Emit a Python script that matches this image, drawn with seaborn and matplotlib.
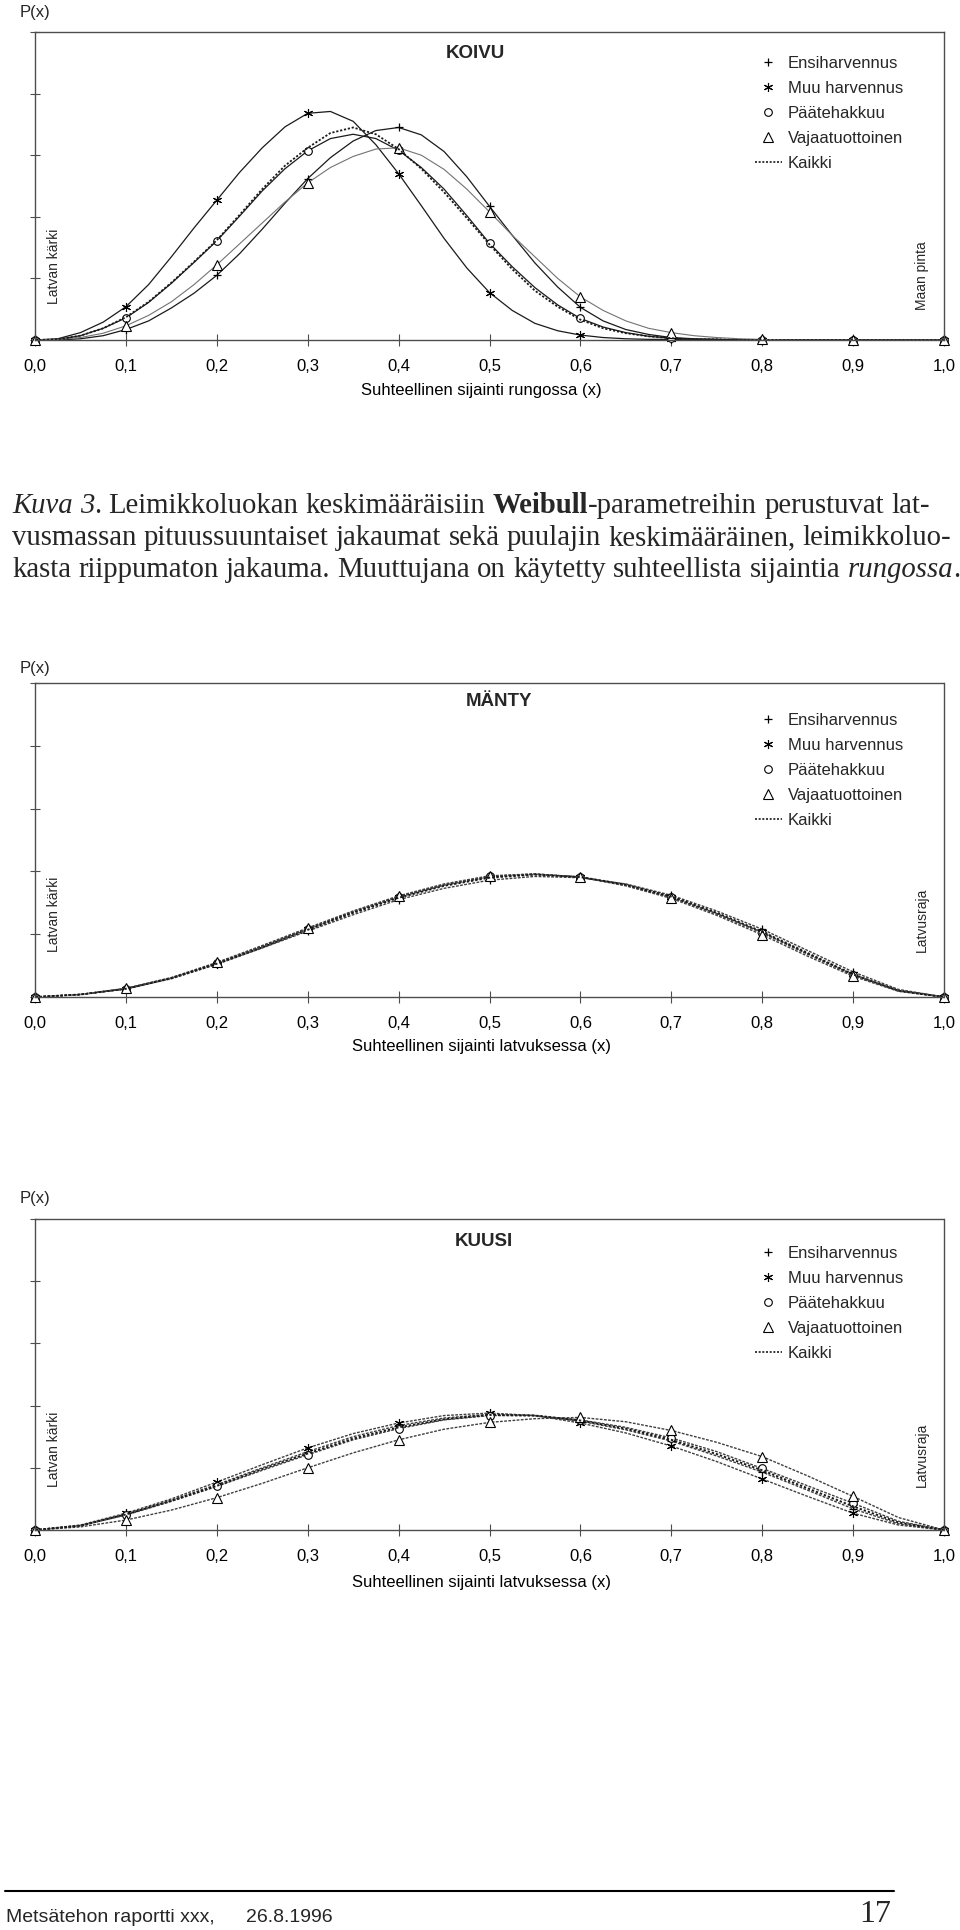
import numpy as np
import pandas as pd
import matplotlib
matplotlib.use("Agg")
import matplotlib.pyplot as plt
from matplotlib.lines import Line2D
import seaborn as sns

# ---------------- data ----------------
X_KOIVU = [0.000, 0.025, 0.050, 0.075, 0.100, 0.125, 0.150, 0.175, 0.200, 0.225,
           0.250, 0.275, 0.300, 0.325, 0.350, 0.375, 0.400, 0.425, 0.450, 0.475,
           0.500, 0.525, 0.550, 0.575, 0.600, 0.625, 0.650, 0.675, 0.700, 0.725,
           0.750, 0.775, 0.800, 0.825, 0.850, 0.875, 0.900, 0.925, 0.950, 0.975, 1.000]
X = [0.00, 0.05, 0.10, 0.15, 0.20, 0.25, 0.30, 0.35, 0.40, 0.45, 0.50,
     0.55, 0.60, 0.65, 0.70, 0.75, 0.80, 0.85, 0.90, 0.95, 1.00]
XTICKS = [0.0, 0.1, 0.2, 0.3, 0.4, 0.5, 0.6, 0.7, 0.8, 0.9, 1.0]
XTICKLABELS = ["0,0", "0,1", "0,2", "0,3", "0,4", "0,5", "0,6", "0,7", "0,8", "0,9", "1,0"]
SERIES = ["Ensiharvennus", "Muu harvennus", "Päätehakkuu", "Vajaatuottoinen", "Kaikki"]

KOIVU_ENSI = [0, 0, .02, .07, .17, .31, .52, .76, 1.05, 1.40, 1.80, 2.22, 2.62, 2.96, 3.23,
              3.40, 3.45, 3.33, 3.06, 2.65, 2.17, 1.70, 1.25, .86, .53, .31, .17, .09, .04,
              .02, .01, 0, 0, 0, 0, 0, 0, 0, 0, 0, 0]
KOIVU_MUU = [0, .02, .12, .29, .54, .90, 1.35, 1.82, 2.27, 2.72, 3.12, 3.46, 3.68, 3.71, 3.55,
             3.17, 2.70, 2.18, 1.65, 1.17, .77, .48, .27, .15, .08, .04, .02, .01, .01,
             0, 0, 0, 0, 0, 0, 0, 0, 0, 0, 0, 0]
KOIVU_PAATE = [0, .01, .07, .19, .36, .61, .92, 1.26, 1.61, 2.01, 2.42, 2.78, 3.07, 3.27, 3.34,
               3.27, 3.08, 2.80, 2.45, 2.02, 1.57, 1.19, .85, .57, .35, .21, .12, .06, .03,
               .01, .01, 0, 0, 0, 0, 0, 0, 0, 0, 0, 0]
KOIVU_VAJAA = [0, .01, .04, .11, .23, .40, .62, .90, 1.22, 1.56, 1.90, 2.24, 2.55, 2.80, 2.98,
               3.10, 3.12, 3.00, 2.77, 2.45, 2.08, 1.70, 1.35, 1.00, .70, .48, .31, .19, .12,
               .07, .04, .02, .01, 0, 0, 0, 0, 0, 0, 0, 0]
KOIVU_KAIKKI = [0, .01, .07, .19, .37, .62, .93, 1.27, 1.62, 2.03, 2.45, 2.83, 3.12, 3.36, 3.45,
                3.34, 3.10, 2.78, 2.40, 1.98, 1.55, 1.15, .80, .54, .33, .19, .11, .06, .03,
                .01, .01, 0, 0, 0, 0, 0, 0, 0, 0, 0, 0]

MANTY_ENSI = [0, .04, .13, .29, .52, .78, 1.05, 1.31, 1.55, 1.73, 1.86, 1.92, 1.90, 1.80, 1.62, 1.37, 1.08, .74, .40, .12, 0]
MANTY_MUU = [0, .04, .13, .30, .53, .80, 1.08, 1.35, 1.59, 1.78, 1.91, 1.95, 1.91, 1.78, 1.59, 1.33, 1.03, .69, .36, .10, 0]
MANTY_PAATE = [0, .04, .13, .30, .54, .81, 1.09, 1.36, 1.60, 1.79, 1.92, 1.96, 1.91, 1.78, 1.59, 1.32, 1.02, .68, .35, .10, 0]
MANTY_VAJAA = [0, .04, .14, .31, .55, .82, 1.10, 1.37, 1.61, 1.80, 1.93, 1.96, 1.91, 1.77, 1.57, 1.30, .99, .65, .33, .09, 0]
MANTY_KAIKKI = [0, .04, .13, .30, .53, .79, 1.07, 1.34, 1.58, 1.77, 1.90, 1.95, 1.91, 1.79, 1.60, 1.34, 1.04, .70, .36, .10, 0]

KUUSI_ENSI = [0, .07, .25, .48, .73, 1.00, 1.26, 1.50, 1.68, 1.80, 1.86, 1.84, 1.75, 1.61, 1.43, 1.19, .93, .64, .34, .10, 0]
KUUSI_MUU = [0, .08, .27, .50, .77, 1.05, 1.32, 1.55, 1.72, 1.84, 1.88, 1.84, 1.72, 1.56, 1.35, 1.10, .82, .54, .27, .08, 0]
KUUSI_PAATE = [0, .07, .24, .46, .70, .96, 1.21, 1.45, 1.63, 1.77, 1.84, 1.84, 1.77, 1.65, 1.48, 1.26, .99, .71, .43, .14, 0]
KUUSI_VAJAA = [0, .05, .16, .32, .52, .75, 1.00, 1.24, 1.45, 1.62, 1.73, 1.79, 1.81, 1.74, 1.60, 1.41, 1.18, .87, .54, .20, 0]
KUUSI_KAIKKI = [0, .07, .25, .47, .71, .98, 1.23, 1.47, 1.65, 1.78, 1.85, 1.84, 1.76, 1.63, 1.45, 1.22, .96, .67, .38, .12, 0]

PANELS = [
    ("KOIVU", X_KOIVU, [KOIVU_ENSI, KOIVU_MUU, KOIVU_PAATE, KOIVU_VAJAA, KOIVU_KAIKKI],
     "Suhteellinen sijainti rungossa (x)", "Maan pinta"),
    ("MÄNTY", X, [MANTY_ENSI, MANTY_MUU, MANTY_PAATE, MANTY_VAJAA, MANTY_KAIKKI],
     "Suhteellinen sijainti latvuksessa (x)", "Latvusraja"),
    ("KUUSI", X, [KUUSI_ENSI, KUUSI_MUU, KUUSI_PAATE, KUUSI_VAJAA, KUUSI_KAIKKI],
     "Suhteellinen sijainti latvuksessa (x)", "Latvusraja"),
]

CAPTION = [
    [("Kuva 3", "italic", "normal"), (". Leimikkoluokan keskimääräisiin ", "normal", "normal"),
     ("Weibull", "normal", "bold"), ("-parametreihin perustuvat lat-", "normal", "normal")],
    [("vusmassan pituussuuntaiset jakaumat sekä puulajin keskimääräinen, leimikkoluo-", "normal", "normal")],
    [("kasta riippumaton jakauma. Muuttujana on käytetty suhteellista sijaintia ", "normal", "normal"),
     ("rungossa", "italic", "normal"), (".", "normal", "normal")],
]

# ---------------- style ----------------
sns.set_theme(style="white")
plt.rcParams["font.family"] = ["Liberation Sans", "DejaVu Sans"]

W, H = 960, 1930
fig = plt.figure(figsize=(W / 100, H / 100), dpi=100)
fig.patch.set_facecolor("white")


def fx(x):
    return x / W


def fy(y):
    return 1 - y / H


MARKERS = {
    "Ensiharvennus": dict(marker="+", markersize=6, mew=0.9, markerfacecolor="black"),
    "Muu harvennus": dict(marker=(6, 2, 0), markersize=6.5, mew=0.8, markerfacecolor="black"),
    "Päätehakkuu": dict(marker="o", markersize=5.5, mew=0.8, markerfacecolor="white"),
    "Vajaatuottoinen": dict(marker="^", markersize=6.5, mew=0.8, markerfacecolor="white"),
    "Kaikki": dict(),
}

# (top, bottom) of each plot area in pixels
GEOM = [(32, 340), (683, 997), (1219, 1530)]
TEXTPOS = {  # title center, legend top, side-label bottom, P(x) center, xlabel center
    0: dict(title=(475, 53), leg=56, side=304, px=12, xl=392),
    1: dict(title=(499, 702), leg=713, side=952, px=668, xl=1048),
    2: dict(title=(484, 1241), leg=1246, side=1487, px=1198, xl=1584),
}

for i, (title, xs, arrays, xlabel, right_label) in enumerate(PANELS):
    top, bottom = GEOM[i]
    ax = fig.add_axes([fx(35), fy(bottom), fx(944) - fx(35), (bottom - top) / H])
    ax.set_facecolor("white")
    dotted = i > 0
    mark_idx = [k for k, v in enumerate(xs) if np.any(np.isclose(v, XTICKS))]
    for name, vals in zip(SERIES, arrays):
        if not dotted:
            if name == "Kaikki":
                ls, col, lw = (0, (1.2, 1.0)), "0.1", 1.3
            elif name == "Vajaatuottoinen":
                ls, col, lw = "-", "0.45", 0.8
            else:
                ls, col, lw = "-", "0.1", 0.9
        else:
            if name == "Kaikki":
                ls, col, lw = (0, (1.2, 1.0)), "0.1", 1.4
            else:
                ls, col, lw = (0, (2.0, 1.0)), "0.25", 1.0
        kw = dict(MARKERS[name])
        if "marker" in kw:
            kw.update(markevery=mark_idx, mec="black")
        sns.lineplot(x=xs, y=vals, ax=ax, color=col, linestyle=ls, linewidth=lw,
                     estimator=None, clip_on=False, legend=False, **kw)

    ax.set_xlim(0, 1)
    ax.set_ylim(0, 5)
    ax.set_xticks(XTICKS)
    ax.set_xticklabels(XTICKLABELS)
    ax.set_yticks([0, 1, 2, 3, 4, 5])
    ax.set_yticklabels([])
    ax.tick_params(axis="x", direction="inout", length=8, width=0.8, color="0.3",
                   labelsize=12, pad=10, bottom=True, labelcolor="black")
    ax.tick_params(axis="y", direction="inout", length=7, width=0.8, color="0.3",
                   left=True, labelleft=False)
    for sp in ax.spines.values():
        sp.set_visible(True)
        sp.set_color("0.3")
        sp.set_linewidth(1.0)
        if dotted:
            sp.set_linestyle((0, (1.5, 1.0)))
    tp = TEXTPOS[i]
    ax.set_xlabel(xlabel, fontsize=12, color="black")
    ax.xaxis.set_label_coords((481 - 35) / 909, (bottom - (tp["xl"] - 9)) / (bottom - top))
    ax.set_ylabel("")

    fig.text(fx(tp["title"][0]), fy(tp["title"][1]), title, fontsize=13.5, fontweight="bold",
             ha="center", va="center")
    fig.text(fx(20), fy(tp["px"]), "P(x)", fontsize=12, ha="left", va="center")
    fig.text(fx(54), fy(tp["side"]), "Latvan kärki", fontsize=10, rotation=90,
             ha="center", va="bottom")
    fig.text(fx(922), fy(tp["side"] + (6 if i == 0 else 0)), right_label, fontsize=10,
             rotation=90, ha="center", va="bottom")

    handles = []
    for name in SERIES:
        if name == "Kaikki":
            handles.append(Line2D([], [], color="0.1", linestyle=(0, (1.2, 1.0)), linewidth=1.2))
        else:
            m = dict(MARKERS[name])
            handles.append(Line2D([], [], linestyle="none", color="black", mec="black", **m))
    ax.legend(handles, SERIES, loc="upper left", bbox_to_anchor=(fx(755), fy(tp["leg"])),
              bbox_transform=fig.transFigure, frameon=False, fontsize=12,
              handlelength=1.6, handletextpad=0.35, labelspacing=0.6,
              borderpad=0, borderaxespad=0)

# ---------------- caption with mixed styles ----------------
renderer = fig.canvas.get_renderer()
SERIF = "Liberation Serif"


def text_width(s, size, style="normal", weight="normal"):
    t = fig.text(0, 0, s, fontsize=size, family=SERIF, style=style, weight=weight)
    w = t.get_window_extent(renderer=renderer).width
    t.remove()
    return w


def space_width(size, style, weight):
    return text_width("a a", size, style, weight) - text_width("aa", size, style, weight)


def draw_rich(x0, ybase, pieces, size, draw=True):
    x = x0
    for text, style, weight in pieces:
        sp = space_width(size, style, weight)
        words = text.split(" ")
        for k, w in enumerate(words):
            if k > 0:
                x += sp
            if w:
                if draw:
                    t = fig.text(fx(x), fy(ybase), w, fontsize=size, family=SERIF, style=style,
                                 weight=weight, va="baseline", ha="left")
                    x += t.get_window_extent(renderer=renderer).width
                else:
                    x += text_width(w, size, style, weight)
    return x


base = 18.0
natural = draw_rich(0, 0, CAPTION[0], base, draw=False)
cap_size = base * 920 / natural
for line, yb in zip(CAPTION, [513, 545, 577]):
    draw_rich(12, yb, line, cap_size)

# ---------------- footer ----------------
fig.add_artist(Line2D([fx(5), fx(894)], [fy(1891), fy(1891)], color="black", linewidth=1.5))
fig.text(fx(6), fy(1922), "Metsätehon raportti xxx,", fontsize=14, ha="left", va="baseline")
fig.text(fx(246), fy(1922), "26.8.1996", fontsize=14, ha="left", va="baseline")
fig.text(fx(891), fy(1922), "17", fontsize=23, family=SERIF, ha="right", va="baseline")

fig.savefig("out.png", dpi=100, facecolor="white")
